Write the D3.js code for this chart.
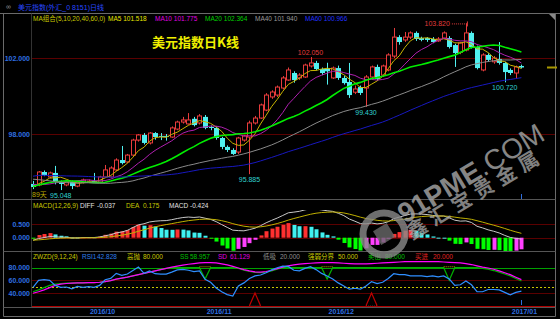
<!DOCTYPE html>
<html><head><meta charset="utf-8">
<script src="https://cdn.jsdelivr.net/npm/d3@7"></script>
<style>body{margin:0;background:#000;}svg{display:block;}</style>
</head><body><svg id="c" width="560" height="319"></svg>
<script>
// ---------- DATA ----------
// closes before the first visible candle (needed for MA40/MA60 and MACD history)
const priorCloses=[94.1,93.9,93.7,93.6,95.5, 96.5,95.9,95.7,96.1,95.6, 95.7,96.1,96.3,96.4,96.3,
 96.6,96.3,96.3,96.0,96.6, 96.6,96.9,97.0,96.9,97.1, 97.2,97.1,96.6,96.6,95.5,
 95.7,95.2,95.6,95.8,96.2, 96.4,96.0,95.6,95.8,95.7, 95.6,94.8,94.7,94.3,94.5,
 94.7,94.6,94.9,95.1,95.5, 95.8,96.0,96.0,95.9,95.8, 95.7,94.9,95.0,95.1,95.2, 95.1,95.4];
const opens=[95.37,95.32,96.00,95.74,95.95,95.47,95.32,95.47,95.26,95.45,95.47,95.53,95.47,95.74,95.74,96.11,96.63,96.53,96.89,97.68,
 97.95,97.53,98.05,97.90,97.90,97.84,98.26,98.63,98.53,98.80,98.58,98.90,98.37,98.32,97.79,97.32,97.16,97.05,97.68,97.84,
 98.58,98.84,99.26,99.95,100.05,100.42,100.84,101.21,100.95,101.00,101.58,101.74,101.42,101.45,100.95,101.47,100.95,100.74,100.20,100.47,
 100.42,101.00,101.53,101.10,101.37,102.10,103.10,102.95,103.10,103.32,103.05,103.05,103.00,102.90,103.05,103.05,102.68,102.30,102.42,103.32,
 102.58,101.37,102.16,101.80,101.95,101.74,101.37,101.21,101.58];
const highs=[95.53,96.05,96.08,96.02,96.32,95.55,95.55,95.55,95.55,95.65,95.60,95.95,95.80,96.37,96.30,96.72,97.37,96.95,97.75,98.00,
 98.05,98.10,98.10,98.05,98.00,98.40,98.70,98.90,99.10,98.90,99.05,99.00,98.45,98.40,97.85,97.40,97.25,97.85,97.95,98.70,
 98.95,99.60,100.15,100.30,100.55,101.05,101.50,101.30,101.20,101.70,102.05,101.85,101.50,101.75,101.55,101.60,101.05,101.74,100.55,100.55,
 101.10,101.60,101.65,101.65,102.25,103.58,103.20,103.37,103.40,103.40,103.12,103.10,103.10,103.10,103.40,103.15,102.75,102.85,103.82,103.40,
 102.65,102.25,102.25,102.10,102.84,101.80,101.45,101.60,101.65];
const lows=[95.10,95.25,95.78,95.68,95.35,95.048,95.25,95.10,95.20,95.40,95.42,95.45,95.42,95.70,95.70,96.05,96.40,96.45,96.85,97.60,
 97.45,97.45,97.70,97.68,97.65,97.80,98.20,98.55,98.50,98.40,98.50,98.25,98.20,97.70,97.20,97.05,96.90,96.95,97.60,95.885,
 98.50,98.80,99.20,99.85,99.95,100.35,100.80,100.70,100.85,100.95,101.50,101.35,101.10,100.60,100.90,100.85,100.60,99.90,100.10,100.05,
 99.43,100.90,100.80,101.00,101.30,102.00,102.70,102.85,103.00,102.90,102.88,102.85,102.78,102.85,103.00,102.50,101.53,102.20,102.35,102.50,
 101.40,101.30,101.80,101.70,101.65,100.72,101.10,100.90,101.45];
const closes=[95.21,96.00,95.84,95.95,95.47,95.37,95.47,95.26,95.47,95.58,95.52,95.50,95.74,96.11,96.21,96.63,96.47,96.89,97.68,97.95,
 97.53,98.05,97.84,97.85,97.85,98.32,98.63,98.74,98.74,98.47,98.95,98.32,98.32,97.79,97.32,97.16,96.95,97.79,97.90,98.58,
 98.84,99.53,100.05,100.21,100.47,100.95,101.37,100.84,101.10,101.63,101.74,101.42,101.21,101.30,101.47,100.95,100.68,100.05,100.37,100.16,
 101.00,101.53,100.90,101.58,102.16,103.10,102.84,103.10,103.32,103.00,102.95,102.95,102.84,103.00,103.32,102.58,102.26,102.79,103.32,102.58,
 101.47,102.16,101.90,102.00,101.74,101.26,101.21,101.53,101.50];
// ZWZD indicator lines
const rsi1=[49,60,61,60,52,49,49.5,46.5,50.5,49,50,49,52,61,63,71,68,70,75.5,81,
 71,75,70.5,70,70,73,76.5,77.4,76,73.7,75,61.6,57,48,42,37.5,35,51,56,63,
 67,68.5,72,76.5,80,82.5,82,76,75,79,81.5,77,71,67,62,56,51,46,47.5,46,
 51,58,55,57,63,70.5,69,69,67,67,67,66,67,65.5,67,62,52,53,59,53,
 42,42,45.5,45.5,45,41,37,41,42.828];
const sd=[39.6,42,45,48.5,52,54,55,55.5,56,56,56.5,56.5,57,58,59.5,62,63.5,65,67,69,
 71,73,75,77,79,81,82.5,84,85.5,86.5,87.5,88,88,87.5,86,84.5,82,79.5,77,75,
 73.5,73,74,76,78.5,81,83,84.5,85.5,86.5,87,87.5,88,88,88,87.5,87,86.5,86,86,
 86,86.5,87,87.5,88,88.5,89,89.5,89.5,89.5,89.5,89.5,89.5,89.5,89,88.5,88,87.5,86.5,85,
 83,81,79.5,77.5,75,72,69,65,61.129];
const ss=[42,45,48.5,52,54,55,55.5,55.5,56,56,56.5,56.5,57,58,59.5,62,63.5,65,67,69,
 71,73,75,77,79,80,80,80,80,80,80,62,80,80,80,80,80,79,76,74,
 72.5,72,73,75,77.5,80,80,80,80,80,80,80,80,62,80,80,80,80,80,80,
 80,80,80,80,80,80,80,80,80,80,80,80,80,80,80,60,80,80,80,80,
 80,79,77.5,75.5,73,70,67,63,58.957];
const buySignals=[40,61];
const sellSignals=[31,53,75];
const monthLabels=["2016/10","2016/11","2016/12","2017/01"];
const monthIdx=[12,33,55,88];
const priceTicks=[102,98], macdTicks=[0.5,0], zwTicks=[80,60,40];
const maLabels=["MA组合(5,10,20,40,60,0)","MA5 101.518","MA10 101.775","MA20 102.364","MA40 101.940","MA60 100.966"];
const maPeriods=[5,10,20,40,60];
const maColors=["#c8b400","#b020b0","#00ee00","#8a8a8a","#1818c0"];
const macdLabels=[["MACD(12,26,9)","#c8c800"],["DIFF","#e0e0e0"],["-0.037","#e0e0e0"],["DEA","#c8c800"],["0.175","#c8c800"],["MACD","#e0e0e0"],["-0.424","#e0e0e0"]];
const zwLabels=[["ZWZD(9,12,24)","#c8c800"],["RSI1","#2f7fe8"],["42.828","#2f7fe8"],["高抛","#c8c800"],["80.000","#c8c800"],["SS","#00c000"],["58.957","#00c000"],["SD","#e000e0"],["61.129","#e000e0"],["低吸","#909090"],["20.000","#909090"],["强弱分界","#c8c800"],["50.000","#c8c800"],["卖出","#00c000"],["80.000","#00c000"],["买进","#e02020"],["20.000","#e02020"]];
const extremes=[{i:50,v:102.050,up:true,col:"#e03c3c"},{i:39,v:95.885,up:false,col:"#30d0d0"},{i:60,v:99.430,up:false,col:"#30d0d0"},{i:85,v:100.720,up:false,col:"#30d0d0"},{i:5,v:95.048,up:false,col:"#30d0d0"}];

// ---------- CHART ----------
const svg=d3.select('#c');
const FONT="'Liberation Sans','Noto Sans CJK SC',sans-serif";
svg.append('rect').attr('width',560).attr('height',319).attr('fill','#000');
const N=closes.length;
const x=d3.scaleLinear().domain([0,N-1]).range([33,521.4]);
const yP=d3.scaleLinear().domain([98,102]).range([134,58]);
const yM=d3.scaleLinear().domain([0,0.5]).range([237.7,224.3]);
const yZ=d3.scaleLinear().domain([40,80]).range([293,267.7]);

const defs=svg.append('defs');
function clip(id,y0,y1){defs.append('clipPath').attr('id',id).append('rect').attr('x',31).attr('y',y0).attr('width',524).attr('height',y1-y0);}
clip('cpMain',22,199);clip('cpMacd',210,251);clip('cpZw',260,306);

// frame
const fr=svg.append('g').attr('stroke','#6a6a6a').attr('stroke-width',1);
fr.append('line').attr('x1',0).attr('x2',560).attr('y1',13.5).attr('y2',13.5);
fr.append('line').attr('x1',3.5).attr('x2',3.5).attr('y1',13.5).attr('y2',316.5);
fr.append('line').attr('x1',555.5).attr('x2',555.5).attr('y1',13.5).attr('y2',316.5);
fr.append('line').attr('x1',3.5).attr('x2',555.5).attr('y1',316.5).attr('y2',316.5);
svg.append('line').attr('x1',31.5).attr('x2',31.5).attr('y1',13.5).attr('y2',307).attr('stroke','#333');
[199.5,251.5,307.5].forEach(yy=>svg.append('line').attr('x1',3.5).attr('x2',555.5).attr('y1',yy).attr('y2',yy).attr('stroke','#555'));
svg.append('path').attr('d','M549,14 L555,14 L555,20 Z').attr('fill','#888');

// title bar
svg.append('text').attr('x',6).attr('y',9).attr('fill','#999').attr('font-size',7).attr('font-family',FONT).text('∞');
svg.append('text').attr('x',18).attr('y',9.5).attr('fill','#2848ff').attr('font-size',7).attr('font-family',FONT).text('美元指数(外汇_0 8151)日线');

// gridlines
const grid=svg.append('g').attr('stroke','#5a0000').attr('stroke-width',1);
priceTicks.forEach(v=>grid.append('line').attr('x1',32).attr('x2',555).attr('y1',Math.round(yP(v))+0.5).attr('y2',Math.round(yP(v))+0.5));
macdTicks.forEach(v=>grid.append('line').attr('x1',32).attr('x2',555).attr('y1',Math.round(yM(v))+0.5).attr('y2',Math.round(yM(v))+0.5));
[60,40].forEach(v=>grid.append('line').attr('x1',32).attr('x2',555).attr('y1',Math.round(yZ(v))+0.5).attr('y2',Math.round(yZ(v))+0.5));
svg.append('line').attr('x1',32).attr('x2',555).attr('y1',Math.round(yZ(50))+0.5).attr('y2',Math.round(yZ(50))+0.5).attr('stroke','#c8c800').attr('stroke-dasharray','2,2');
svg.append('line').attr('x1',32).attr('x2',555).attr('y1',Math.round(yZ(80))+0.5).attr('y2',Math.round(yZ(80))+0.5).attr('stroke','#00a000').attr('stroke-width',1.2);
svg.append('line').attr('x1',32).attr('x2',555).attr('y1',Math.round(yZ(20))+0.5).attr('y2',Math.round(yZ(20))+0.5).attr('stroke','#b00000');

// axis labels
const fmt3=d3.format('.3f');
const ax=svg.append('g').attr('font-family',FONT).attr('font-size',7).attr('font-weight','bold').attr('fill','#2f6fe0').attr('text-anchor','end');
priceTicks.forEach(v=>ax.append('text').attr('x',30).attr('y',yP(v)+2.5).text(fmt3(v)));
macdTicks.forEach(v=>ax.append('text').attr('x',30).attr('y',yM(v)+2.5).text(fmt3(v)));
zwTicks.forEach(v=>ax.append('text').attr('x',30).attr('y',yZ(v)+2.5).text(fmt3(v)));
monthLabels.forEach((t,k)=>svg.append('text').attr('x',Math.min(x(monthIdx[k])+3,526)).attr('y',314).attr('text-anchor','middle')
  .attr('font-family',FONT).attr('font-size',7).attr('font-weight','bold').attr('fill','#2f6fe0').text(t));

// MA legend
const lg=svg.append('g').attr('font-family',FONT).attr('font-size',6.5);
const lgX=[33,108,155,205,255,305], lgC=["#c8c800","#e6e600","#e000e0","#00d000","#9a9a9a","#2030ff"];
maLabels.forEach((t,k)=>lg.append('text').attr('x',lgX[k]).attr('y',20.5).attr('fill',lgC[k]).text(t));

// candles
const UP="#e83c3c", DN="#50f0f0";
const cg=svg.append('g').attr('clip-path','url(#cpMain)');
closes.forEach((c,i)=>{
  const o=opens[i],up=c>=o,col=up?UP:DN,cx=Math.round(x(i))+0.5;
  cg.append('line').attr('x1',cx).attr('x2',cx).attr('y1',yP(highs[i])).attr('y2',yP(lows[i])).attr('stroke',col);
  const top=yP(Math.max(o,c)),h=Math.max(1,Math.abs(yP(o)-yP(c)));
  if(up) cg.append('rect').attr('x',cx-2).attr('y',top).attr('width',4).attr('height',h).attr('fill','#000').attr('stroke',col).attr('stroke-width',1);
  else cg.append('rect').attr('x',cx-2.5).attr('y',top).attr('width',5).attr('height',h).attr('fill',col);
});

// moving averages
const all=priorCloses.concat(closes), P=priorCloses.length;
const maG=svg.append('g').attr('clip-path','url(#cpMain)').attr('fill','none');
maPeriods.forEach((n,k)=>{
  const vals=closes.map((_,i)=>d3.mean(all.slice(P+i-n+1,P+i+1)));
  maG.append('path').attr('d',d3.line().x((d,i)=>x(i)).y(d=>yP(d))(vals)).attr('stroke',maColors[k]).attr('stroke-width',n===20?1.6:1);
});

// extreme labels
const ex=svg.append('g').attr('font-family',FONT).attr('font-size',7);
extremes.forEach(e=>ex.append('text').attr('x',x(e.i)).attr('y',e.up?yP(e.v)-2:yP(e.v)+8).attr('text-anchor','middle').attr('fill',e.col).text(e.v.toFixed(3)));
const hiI=d3.maxIndex(highs), hx=x(hiI), hy=yP(highs[hiI]);
ex.append('text').attr('x',hx-16).attr('y',hy+3).attr('text-anchor','end').attr('fill','#e03c3c').text(highs[hiI].toFixed(3));
svg.append('line').attr('x1',hx-14).attr('x2',hx+1).attr('y1',hy+0.5).attr('y2',hy+0.5).attr('stroke','#e03c3c').attr('stroke-dasharray','1,1');
svg.append('line').attr('x1',hx+1.5).attr('x2',hx+1.5).attr('y1',hy-2).attr('y2',hy+3).attr('stroke','#e03c3c');
ex.append('text').attr('x',32).attr('y',197).attr('fill','#b8a800').text(N+'天');
svg.append('line').attr('x1',547).attr('x2',557).attr('y1',yP(closes[N-1])).attr('y2',yP(closes[N-1])).attr('stroke','#a89800').attr('stroke-width',2);

// MACD
let e12=all[0],e26=all[0],dea=0;const diff=[],deaA=[],bar=[];
all.forEach((c,k)=>{ if(k>0){e12=e12*11/13+c*2/13;e26=e26*25/27+c*2/27;} const d=e12-e26; dea=k===0?d:dea*0.8+d*0.2; if(k>=P){diff.push(d);deaA.push(dea);bar.push(2*(d-dea));}});
const mg=svg.append('g').attr('clip-path','url(#cpMacd)');
bar.forEach((b,i)=>{
  const prev=i>0?bar[i-1]:b; let col;
  if(b>=0) col=b>=prev?"#ff3030":"#40f0f0"; else col=b<=prev?"#00ff00":"#ff40ff";
  const y0=yM(0),y1=yM(b);
  mg.append('rect').attr('x',Math.round(x(i))-1.5).attr('y',Math.min(y0,y1)).attr('width',4).attr('height',Math.max(1,Math.abs(y1-y0))).attr('fill',col);
});
mg.append('path').attr('d',d3.line().x((d,i)=>x(i)).y(d=>yM(d))(diff)).attr('fill','none').attr('stroke','#c8c8c8');
mg.append('path').attr('d',d3.line().x((d,i)=>x(i)).y(d=>yM(d))(deaA)).attr('fill','none').attr('stroke','#c0b000');
const mlX=[33,80,97,126,143,169,190];
const ml=svg.append('g').attr('font-family',FONT).attr('font-size',6.5);
macdLabels.forEach((t,k)=>ml.append('text').attr('x',mlX[k]).attr('y',207.5).attr('fill',t[1]).text(t[0]));

// ZWZD
const zg=svg.append('g').attr('clip-path','url(#cpZw)').attr('fill','none');
const zl=d3.line().x((d,i)=>x(i)).y(d=>yZ(d));
zg.append('path').attr('d',zl(ss)).attr('stroke','#00b000').attr('stroke-width',1.2);
zg.append('path').attr('d',zl(sd)).attr('stroke','#ff00ff').attr('stroke-width',1.2);
zg.append('path').attr('d',zl(rsi1)).attr('stroke','#2f8fff').attr('stroke-width',1.2);
sellSignals.forEach(i=>zg.append('line').attr('x1',x(i-1)).attr('x2',x(i+1)).attr('y1',yZ(81.5)).attr('y2',yZ(81.5)).attr('stroke','#c8a000').attr('stroke-dasharray','1,1'));
buySignals.forEach(i=>{
  zg.append('path').attr('d',d3.line()([[x(i-1),yZ(20)],[x(i),yZ(40)],[x(i+1),yZ(20)]])).attr('stroke','#c00000').attr('stroke-width',1.2);
  zg.append('line').attr('x1',x(i-1)).attr('x2',x(i+1)).attr('y1',yZ(19)).attr('y2',yZ(19)).attr('stroke','#888').attr('stroke-dasharray','1,1');
});
svg.append('line').attr('x1',Math.round(x(N-1))+0.5).attr('x2',Math.round(x(N-1))+0.5).attr('y1',300).attr('y2',305).attr('stroke','#2f6fe0');
svg.append('line').attr('x1',Math.round(x(N-1))+0.5).attr('x2',Math.round(x(N-1))+0.5).attr('y1',194).attr('y2',199).attr('stroke','#2f6fe0');
const zlX=[33,82,97,127,143,180,190,218,230,263,280,308,338,368,385,415,433];
const zt=svg.append('g').attr('font-family',FONT).attr('font-size',6.5);
zwLabels.forEach((t,k)=>zt.append('text').attr('x',zlX[k]).attr('y',259).attr('fill',t[1]).text(t[0]));

// main title
svg.append('text').attr('x',152).attr('y',47).attr('fill','#f0f000').attr('font-size',13).attr('font-weight','bold')
  .attr('font-family',"'Noto Sans CJK SC',sans-serif").text('美元指数日K线');

// watermark
const wm=svg.append('g').attr('opacity',0.8);
wm.append('circle').attr('cx',384).attr('cy',234).attr('r',21).attr('fill','none').attr('stroke','#8a8a8a').attr('stroke-width',7);
wm.append('rect').attr('x',376).attr('y',226).attr('width',16).attr('height',16).attr('fill','#6a6a6a').attr('transform','rotate(-31,384,234)');
const t1=wm.append('text').attr('transform','translate(405,224) rotate(-31)').attr('font-family',"'Liberation Sans',sans-serif").attr('font-size',28).attr('fill','#a8a8a8');
t1.append('tspan').attr('font-weight','bold').text('91PME');
t1.append('tspan').text('.COM');
wm.append('text').attr('transform','translate(412,240) rotate(-31)').attr('font-family',"'Noto Sans CJK SC',sans-serif").attr('font-size',20).attr('font-weight','bold').attr('letter-spacing',6).attr('fill','#a0a0a0').text('鑫汇宝贵金属');
</script></body></html>
